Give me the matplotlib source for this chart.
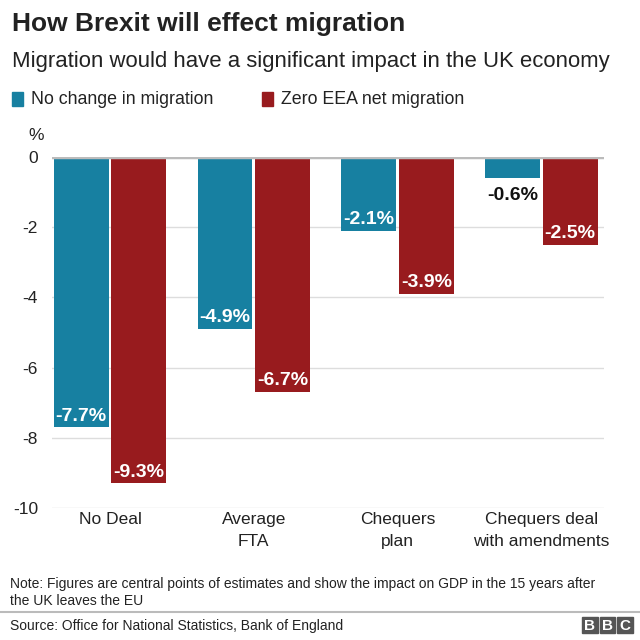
import matplotlib.pyplot as plt
import numpy as np
from matplotlib.patches import Rectangle

plt.rcParams['font.family'] = ['Liberation Sans', 'DejaVu Sans']

categories = ["No Deal", "Average\nFTA", "Chequers\nplan", "Chequers deal\nwith amendments"]
no_change = [-7.7, -4.9, -2.1, -0.6]
zero_eea = [-9.3, -6.7, -3.9, -2.5]
series_names = ["No change in migration", "Zero EEA net migration"]
yticks = [0, -2, -4, -6, -8, -10]

teal = "#1780a1"
red = "#981b1e"

fig = plt.figure(figsize=(6.4, 6.4), dpi=100)
ax = fig.add_axes([52/640, 1-508/640, 552/640, 351/640])

x = np.arange(len(categories))
w = 0.382
off = 0.2
b1 = ax.bar(x - off, no_change, w, color=teal, zorder=3)
b2 = ax.bar(x + off, zero_eea, w, color=red, zorder=3)

ax.set_xlim(-0.403, 3.435)
ax.set_ylim(-10, 0)
ax.set_yticks(yticks)
ax.set_yticklabels([str(t) for t in yticks], fontsize=12.5, color="#222222")
ax.tick_params(axis='y', length=0, pad=10)
ax.set_xticks([])
for s in ax.spines.values():
    s.set_visible(False)
for t in yticks[1:]:
    ax.axhline(t, color="#dddddd", lw=1, zorder=1)
ax.axhline(0, color="#bbbbbb", lw=2.5, zorder=4)

for bars, vals in [(b1, no_change), (b2, zero_eea)]:
    for b, v in zip(bars, vals):
        cx = b.get_x() + b.get_width()/2
        if v < -1:
            ax.text(cx, v + 0.32, f"{v}%", ha='center', va='center', color='white',
                    fontsize=14, fontweight='bold', zorder=5)
        else:
            ax.text(cx, v - 0.5, f"{v}%", ha='center', va='center', color='#111111',
                    fontsize=14, fontweight='bold', zorder=5)

for i, c in enumerate(categories):
    ax.text(i, -10.12, c, ha='center', va='top', fontsize=12.5, color="#222222",
            linespacing=1.55)

fig.text(44/640, 1-135/640, "%", ha='right', va='center', fontsize=12.5, color="#222222")

fig.text(12/640, 1-24/640, "How Brexit will effect migration", ha='left', va='center',
         fontsize=19, fontweight='bold', color="#222222")
fig.text(12/640, 1-61/640, "Migration would have a significant impact in the UK economy",
         ha='left', va='center', fontsize=15.9, color="#222222")

# legend
fig.patches.append(Rectangle((12/640, 1-106/640), 11/640, 14/640, color=teal,
                             transform=fig.transFigure, figure=fig))
fig.text(31/640, 1-99/640, series_names[0], ha='left', va='center', fontsize=12.8, color="#222222")
fig.patches.append(Rectangle((262/640, 1-106/640), 11/640, 14/640, color=red,
                             transform=fig.transFigure, figure=fig))
fig.text(281/640, 1-99/640, series_names[1], ha='left', va='center', fontsize=12.8, color="#222222")

fig.text(10/640, 1-584/640, "Note: Figures are central points of estimates and show the impact on GDP in the 15 years after",
         ha='left', va='center', fontsize=10, color="#222222")
fig.text(10/640, 1-601/640, "the UK leaves the EU", ha='left', va='center', fontsize=10, color="#222222")

fig.add_artist(plt.Line2D([0, 1], [1-612/640, 1-612/640], color="#bbbbbb", lw=1.5,
                          transform=fig.transFigure))
fig.text(10/640, 1-626/640, "Source: Office for National Statistics, Bank of England",
         ha='left', va='center', fontsize=10, color="#222222")

# BBC blocks
for k, letter in enumerate("BBC"):
    x0 = 582 + k*17.5
    fig.patches.append(Rectangle((x0/640, 1-633/640), 15.5/640, 16/640, color="#555555",
                                 transform=fig.transFigure, figure=fig))
    fig.text((x0+7.75)/640, 1-625/640, letter, ha='center', va='center_baseline',
             fontsize=11, fontweight='bold', color='white')

fig.savefig("out.png", dpi=100, facecolor='white')
